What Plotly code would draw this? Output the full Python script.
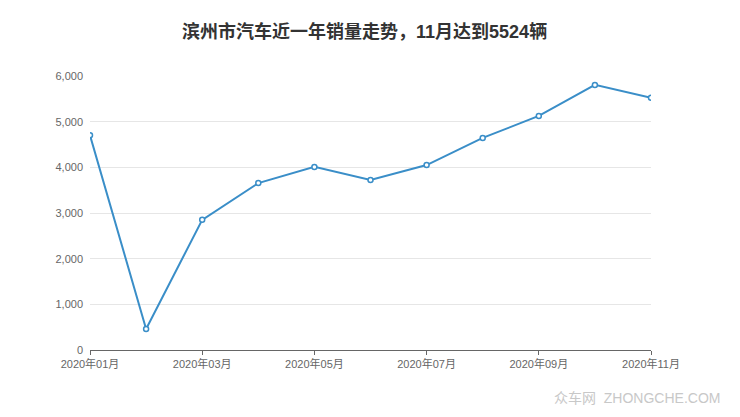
import plotly.graph_objects as go

months = ["2020年01月", "2020年02月", "2020年03月", "2020年04月", "2020年05月", "2020年06月",
          "2020年07月", "2020年08月", "2020年09月", "2020年10月", "2020年11月"]
sales = [4700, 460, 2850, 3655, 4010, 3725, 4050, 4645, 5125, 5805, 5524]
tick_labels = months[::2]
y_ticks = [0, 1000, 2000, 3000, 4000, 5000, 6000]

font_family = "Liberation Sans, Noto Sans CJK SC, Arial, sans-serif"

fig = go.Figure()
fig.add_trace(go.Scatter(
    x=months, y=sales, mode="lines+markers",
    line=dict(color="#3a8ec8", width=2),
    marker=dict(symbol="circle", size=5, color="white",
                line=dict(color="#3a8ec8", width=1.5)),
    hoverinfo="x+y", showlegend=False,
))

fig.update_layout(
    width=740, height=417,
    margin=dict(l=82, r=97, t=68, b=75),
    paper_bgcolor="white", plot_bgcolor="white",
    font=dict(family=font_family, color="#666", size=11),
    title=dict(text="<b>滨州市汽车近一年销量走势，11月达到5524辆</b>",
               x=0.4895, xanchor="center", xref="paper", y=0.942, yanchor="middle",
               font=dict(size=18, color="#333", family=font_family)),
    xaxis=dict(type="category", range=[0, len(months) - 1],
               tickmode="array", tickvals=tick_labels, ticktext=tick_labels,
               showgrid=False, showline=True, linecolor="#666", linewidth=1,
               ticks="outside", ticklen=4, tickcolor="#666",
               tickfont=dict(size=11, color="#666"), zeroline=False, fixedrange=True),
    yaxis=dict(range=[0, 6000], tickvals=y_ticks,
               tickformat=",d", showgrid=True, gridcolor="#e6e6e6", gridwidth=1,
               zeroline=False, showline=False, ticks="", ticklabelstandoff=6,
               tickfont=dict(size=11, color="#666"), fixedrange=True),
)

fig.add_annotation(text="众车网  ZHONGCHE.COM", xref="paper", yref="paper",
                   x=1.1266, y=-0.175, xanchor="right", yanchor="middle",
                   showarrow=False, font=dict(size=14, color="#c8c8c8", family=font_family))

fig.write_html("out.html")
